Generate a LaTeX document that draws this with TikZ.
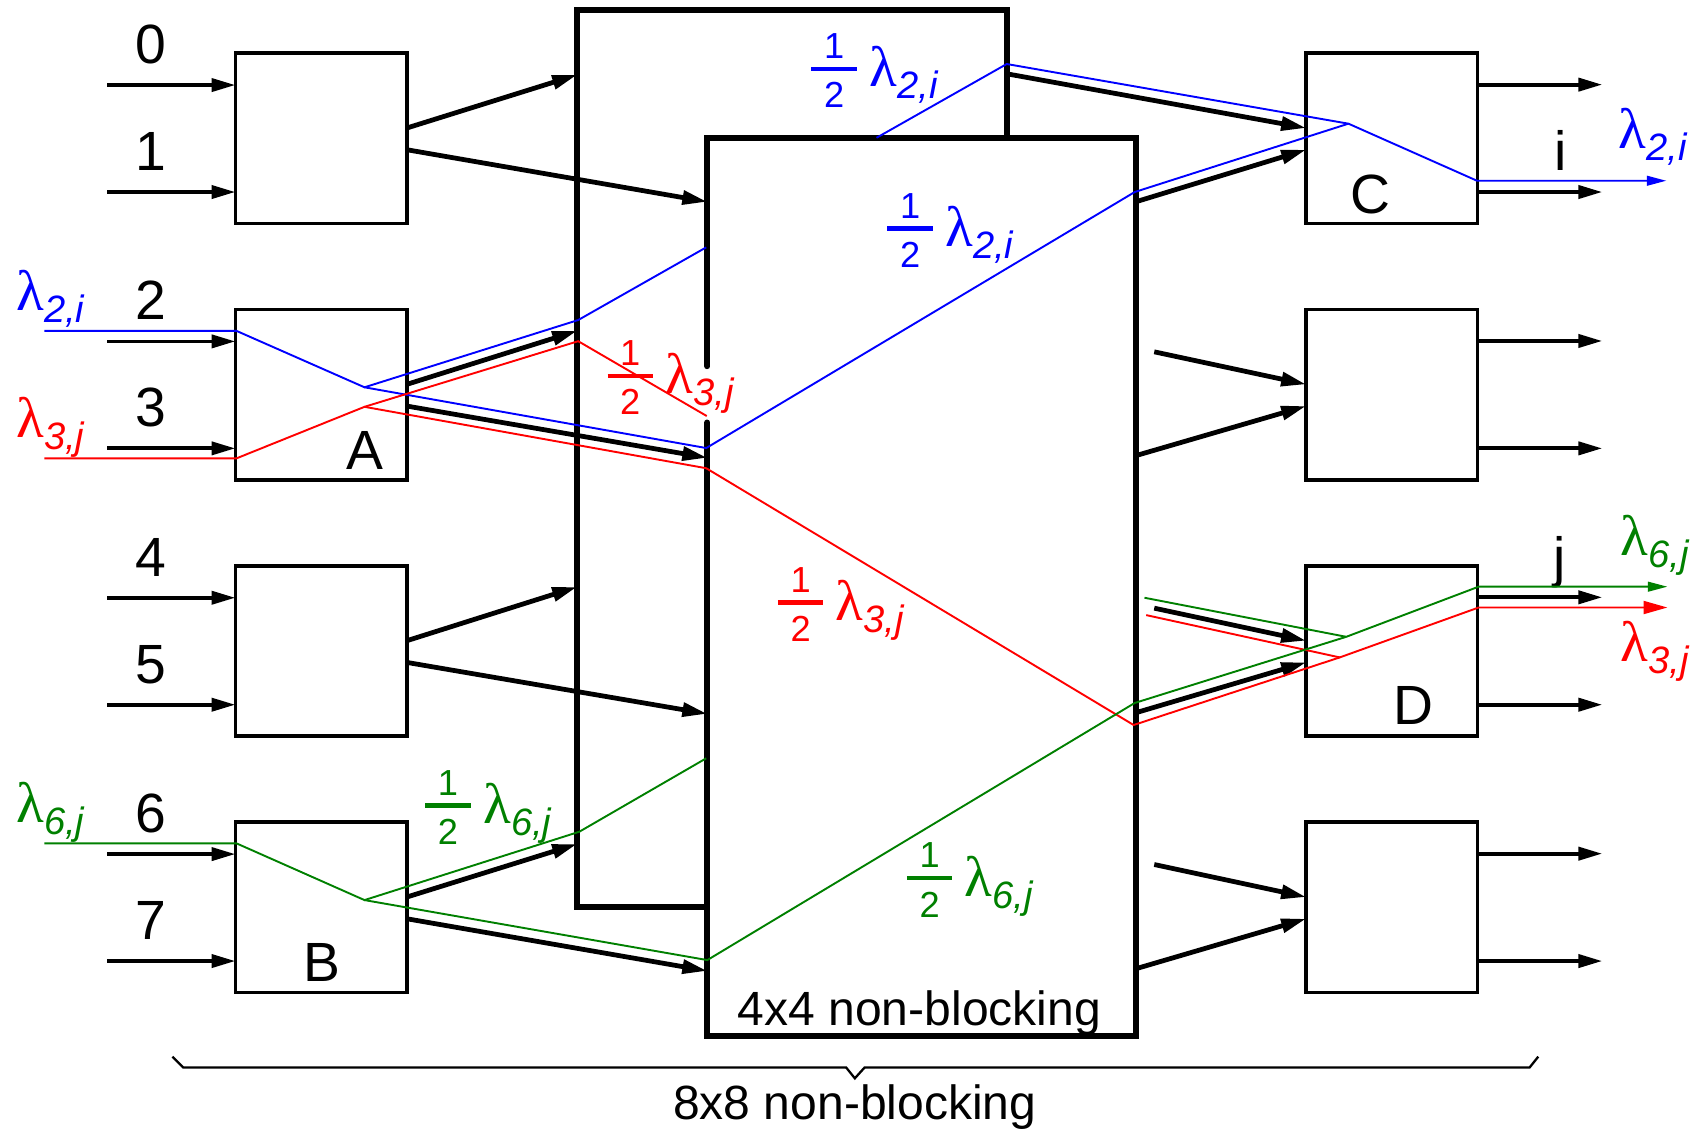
\documentclass[tikz,border=0pt]{standalone}
\usepackage{fontspec}
\setmainfont{Liberation Sans}
\newfontfamily\lamfont{Liberation Serif}
\usetikzlibrary{arrows.meta}
\definecolor{cblue}{RGB}{0,0,255}
\definecolor{cred}{RGB}{255,0,0}
\definecolor{cgreen}{RGB}{0,128,0}
\newcommand{\lamsub}[1]{{\fontsize{15}{18}\lamfont λ}\raisebox{-1.1mm}{\fontsize{10}{12}\selectfont\itshape #1}}
\newcommand{\fracdigit}[1]{\makebox[4.2mm]{\fontsize{9.5}{11}\selectfont #1}}
\newcommand{\halfx}{\makebox[4.2mm][l]{\rlap{\raisebox{2.6mm}{\fracdigit{1}}}\rlap{\raisebox{-1.95mm}{\fracdigit{2}}}\rule[1.45mm]{4.2mm}{0.4mm}}}
\newcommand{\halflam}[1]{\halfx\hspace{1.15mm}\lamsub{#1}}
\begin{document}
\begin{tikzpicture}[x=0.1mm,y=-0.1mm,
  sbox/.style={draw,line width=1pt,minimum width=15.8mm,minimum height=15.7mm,inner sep=0,outer sep=0},
  bbox/.style={inner sep=0,outer sep=0},
  bigline/.style={line width=1.6pt},
  ioarr/.style={line width=1pt,-{Triangle[length=2.2mm,width=1.2mm]}},
  marr/.style={line width=1.25pt,-{Triangle[length=2.3mm,width=1.25mm]}},
  cl/.style={line width=0.5pt},
  smalltip/.style={-{Triangle[length=1.8mm,width=0.9mm]}},
  bigtip/.style={-{Triangle[length=2.2mm,width=1.2mm]}},
  lab/.style={inner sep=0,outer sep=0,anchor=base},
  labw/.style={inner sep=0,outer sep=0,anchor=base west},
  digtxt/.style={lab,font=\fontsize{14.5}{17}\selectfont},
  lettxt/.style={lab,font=\fontsize{14.5}{17}\selectfont},
  captxt/.style={lab,font=\fontsize{12.6}{15}\selectfont}]
\useasboundingbox (0,0) rectangle (1568,1043);

% middle stage boxes
\node[bbox,draw,bigline,minimum width=39.6mm,minimum height=82.65mm] (U) at (730,422.75) {};
\node[bbox,fill=white,minimum width=39.5mm,minimum height=82.8mm] (M) at (849.5,541) {};
\draw[bigline,line cap=round] ([yshift=-21.05mm]M.north west) -- (M.north west) -- (M.north east) -- (M.south east) -- (M.south west) -- ([yshift=-26.25mm]M.north west);
\node[captxt] (t4) at (847.5,945) {4x4 non-blocking};

% left and right boxes
\node[sbox] (L1) at (296,127.5) {};
\node[sbox] (LA) at (296,363.8) {};
\node[sbox] (L3) at (296,600.1) {};
\node[sbox] (LB) at (296,836.4) {};
\node[sbox] (R1) at (1283,127.5) {};
\node[sbox] (R2) at (1283,363.8) {};
\node[sbox] (R3) at (1283,600.1) {};
\node[sbox] (R4) at (1283,836.4) {};

\node[lettxt] (tA) at (336,433) {A};
\node[lettxt] (tB) at (297,905) {B};
\node[lettxt] (tC) at (1263,197) {C};
\node[lettxt] (tD) at (1303,668) {D};

% input labels
\node[digtxt] (n0) at (139,58.5) {0};
\node[digtxt] (n1) at (139,157) {1};
\node[digtxt] (n2) at (139,294.8) {2};
\node[digtxt] (n3) at (139,393.3) {3};
\node[digtxt] (n4) at (139,531.1) {4};
\node[digtxt] (n5) at (139,629.6) {5};
\node[digtxt] (n6) at (139,767.4) {6};
\node[digtxt] (n7) at (139,865.9) {7};
\node[lettxt] (ti) at (1439,157) {i};
\node[lettxt] (tj) at (1438,531) {j};

% input and output arrows
\foreach \b/\ya/\yb in {L1/78.4/177, LA/314.7/413.3, L3/551/649.6, LB/787.3/885.9} {
  \coordinate (ia\b) at (99,\ya);
  \coordinate (ib\b) at (99,\yb);
  \draw[ioarr] (ia\b) -- (ia\b -| \b.west);
  \draw[ioarr] (ib\b) -- (ib\b -| \b.west);
}
\foreach \b/\ya/\yb in {R1/78/177, R2/314.3/413.3, R3/550.6/649.6, R4/786.9/885.9} {
  \coordinate (oa\b) at (1477,\ya);
  \coordinate (ob\b) at (1477,\yb);
  \draw[ioarr] (oa\b -| \b.east) -- (oa\b);
  \draw[ioarr] (ob\b -| \b.east) -- (ob\b);
}

% first stage to middle stage
\foreach \b/\su/\sm in {L1/-5.95mm/-5.9mm, LA/-29.55mm/-29.5mm, L3/-53.15mm/-53.1mm, LB/-76.85mm/-76.8mm} {
  \draw[marr] ([yshift=-6.9mm]\b.north east) -- ([yshift=\su]U.north west);
  \draw[marr] ([yshift=-8.9mm]\b.north east) -- ([yshift=\sm]M.north west);
}
% middle stage to last stage
\draw[marr] ([yshift=-5.85mm]U.north east) -- ([yshift=-6.9mm]R1.north west);
\draw[marr] ([yshift=-5.9mm]M.north east) -- ([yshift=-8.9mm]R1.north west);
\foreach \b/\ys/\sm in {R2/324.3/-29.3mm, R3/560.6/-53mm, R4/796.9/-76.6mm} {
  \coordinate (f\b) at (1064,\ys);
  \draw[marr] (f\b) -- ([yshift=-6.9mm]\b.north west);
  \draw[marr] ([yshift=\sm]M.north east) -- ([yshift=-8.9mm]\b.north west);
}

% blue path
\coordinate (b0) at (41,305); \coordinate (b1) at (218,305);
\coordinate (bA) at (336,357); \coordinate (b2) at (533,295);
\coordinate (b3) at (651,228); \coordinate (b4) at (808,127);
\coordinate (b5) at (928,59); \coordinate (bC) at (1243,114);
\coordinate (b6) at (1361.5,166.6); \coordinate (b7) at (1536,166.6);
\coordinate (b8) at (651,413); \coordinate (b9) at (1046,177);
\draw[cl,cblue] (b0) -- (b1) -- (bA) -- (b2) -- (b3);
\draw[cl,cblue] (bA) -- (b8) -- (b9) -- (bC);
\draw[cl,cblue,smalltip] (b4) -- (b5) -- (bC) -- (b6) -- (b7);

% red path
\coordinate (r0) at (41,422.5); \coordinate (r1) at (218,422.5);
\coordinate (rA) at (336,375); \coordinate (r2) at (533,314.5);
\coordinate (r3) at (651.5,383.5); \coordinate (r4) at (651,431.6);
\coordinate (r5) at (1045,668.3); \coordinate (rD) at (1235,606);
\coordinate (r6) at (1363,560); \coordinate (r7) at (1537,560);
\coordinate (r8) at (1056.6,567);
\draw[cl,cred] (r0) -- (r1) -- (rA) -- (r2) -- (r3);
\draw[cl,cred] (r8) -- (rD);
\draw[cl,cred,bigtip] (rA) -- (r4) -- (r5) -- (rD) -- (r6) -- (r7);

% green path
\coordinate (g0) at (41,777.4); \coordinate (g1) at (218,777.4);
\coordinate (gB) at (336,829.7); \coordinate (g2) at (534,766.7);
\coordinate (g3) at (651,699); \coordinate (g4) at (652,885);
\coordinate (g5) at (1046,648); \coordinate (gD) at (1241,587);
\coordinate (g6) at (1363,540.8); \coordinate (g7) at (1537,540.8);
\coordinate (g8) at (1055,551);
\draw[cl,cgreen] (g0) -- (g1) -- (gB) -- (g2) -- (g3);
\draw[cl,cgreen] (g8) -- (gD);
\draw[cl,cgreen,smalltip] (gB) -- (g4) -- (g5) -- (gD) -- (g6) -- (g7);

% lambda labels
\node[labw,text=cblue] (lb1) at (15,286) {\lamsub{2,i}};
\node[labw,text=cred] (lr1) at (15,403) {\lamsub{3,j}};
\node[labw,text=cgreen] (lg1) at (15,758) {\lamsub{6,j}};
\node[labw,text=cblue] (lb2) at (1492,137) {\lamsub{2,i}};
\node[labw,text=cgreen] (lg2) at (1494,512) {\lamsub{6,j}};
\node[labw,text=cred] (lr2) at (1494,610) {\lamsub{3,j}};
\node[labw,text=cblue] (hb1) at (748,80) {\halflam{2,i}};
\node[labw,text=cblue] (hb2) at (818,227) {\halflam{2,i}};
\node[labw,text=cred] (hr1) at (560,363) {\halflam{3,j}};
\node[labw,text=cred] (hr2) at (717,572) {\halflam{3,j}};
\node[labw,text=cgreen] (hg1) at (392,759) {\halflam{6,j}};
\node[labw,text=cgreen] (hg2) at (836,826) {\halflam{6,j}};

% brace and caption
\coordinate (c0) at (159,974); \coordinate (c1) at (169,984);
\coordinate (c2) at (780,984); \coordinate (c3) at (788,994);
\coordinate (c4) at (797,984); \coordinate (c5) at (1410,984);
\coordinate (c6) at (1418,974);
\draw[line width=0.6pt] (c0) -- (c1) -- (c2) -- (c3) -- (c4) -- (c5) -- (c6);
\node[captxt] (t8) at (788,1032) {8x8 non-blocking};
\end{tikzpicture}
\end{document}
